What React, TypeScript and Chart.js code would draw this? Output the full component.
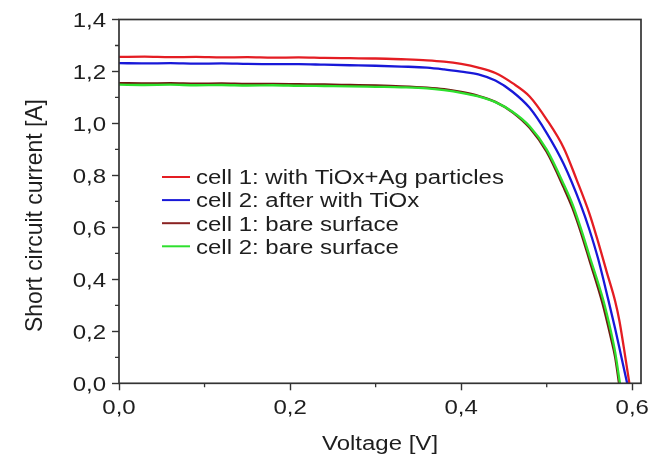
import React, { useEffect, useRef } from "react";
import { Chart, registerables } from "chart.js";

Chart.register(...registerables);

const seriesLabels = [
  "cell 1: with TiOx+Ag particles",
  "cell 2: after with TiOx",
  "cell 1: bare surface",
  "cell 2: bare surface",
];
const seriesColors = ["#e41d23", "#1818d8", "#6e1a10", "#2ee02e"];

const redV = [0, 0.03, 0.06, 0.09, 0.12, 0.15, 0.18, 0.21, 0.24, 0.27, 0.3, 0.33, 0.36, 0.38, 0.4, 0.42, 0.44, 0.46, 0.48, 0.5, 0.52, 0.535, 0.55, 0.56, 0.57, 0.58, 0.585, 0.59, 0.5966];
const redI = [1.256, 1.257, 1.255, 1.256, 1.254, 1.255, 1.253, 1.254, 1.252, 1.251, 1.25, 1.247, 1.243, 1.238, 1.229, 1.215, 1.194, 1.155, 1.104, 1.015, 0.905, 0.783, 0.652, 0.545, 0.43, 0.316, 0.24, 0.14, 0.0];

const blueV = [0, 0.03, 0.06, 0.09, 0.12, 0.15, 0.18, 0.21, 0.24, 0.27, 0.3, 0.33, 0.36, 0.38, 0.4, 0.42, 0.44, 0.46, 0.48, 0.5, 0.52, 0.54, 0.55, 0.56, 0.572, 0.58, 0.587, 0.594];
const blueI = [1.232, 1.231, 1.232, 1.23, 1.231, 1.229, 1.228, 1.228, 1.226, 1.224, 1.222, 1.219, 1.215, 1.208, 1.199, 1.189, 1.165, 1.122, 1.06, 0.963, 0.843, 0.685, 0.59, 0.48, 0.321, 0.21, 0.105, 0.0];

const brownV = [0, 0.03, 0.06, 0.09, 0.12, 0.15, 0.18, 0.21, 0.24, 0.27, 0.3, 0.33, 0.36, 0.38, 0.4, 0.42, 0.44, 0.46, 0.48, 0.5, 0.52, 0.53, 0.54, 0.55, 0.565, 0.575, 0.58, 0.5845];
const brownI = [1.155, 1.154, 1.155, 1.153, 1.154, 1.152, 1.152, 1.151, 1.15, 1.148, 1.146, 1.143, 1.138, 1.132, 1.121, 1.106, 1.083, 1.043, 0.983, 0.89, 0.752, 0.675, 0.58, 0.473, 0.31, 0.175, 0.1, 0.0];

const greenV = [0, 0.03, 0.06, 0.09, 0.12, 0.15, 0.18, 0.21, 0.24, 0.27, 0.3, 0.33, 0.36, 0.38, 0.4, 0.42, 0.44, 0.46, 0.48, 0.5, 0.52, 0.53, 0.54, 0.55, 0.566, 0.575, 0.58, 0.5856];
const greenI = [1.149, 1.148, 1.149, 1.147, 1.148, 1.146, 1.147, 1.145, 1.144, 1.143, 1.141, 1.139, 1.135, 1.128, 1.118, 1.104, 1.082, 1.045, 0.989, 0.899, 0.765, 0.69, 0.595, 0.49, 0.321, 0.2, 0.12, 0.0];

const seriesV = [redV, blueV, brownV, greenV];
const seriesI = [redI, blueI, brownI, greenI];
const drawOrder = [3, 2, 1, 0];

const xTicks = [0, 0.2, 0.4, 0.6];
const yTicks = [0, 0.2, 0.4, 0.6, 0.8, 1.0, 1.2, 1.4];
const xMinor = [0.1, 0.3, 0.5];
const yMinor = [0.1, 0.3, 0.5, 0.7, 0.9, 1.1, 1.3];
const xTitle = "Voltage [V]";
const yTitle = "Short circuit current [A]";

const fmt = (v: number) => v.toFixed(1).replace(".", ",");
const FONT = "'Liberation Sans', Arial, sans-serif";
const AXIS = "#333333";
const TEXT = "#1e1e1e";
const SX = 1.2;

function stretchedText(ctx: any, text: string, x: number, y: number, align: string, rot = 0, sx = SX, sy = 1) {
  ctx.save();
  ctx.translate(x, y);
  if (rot) ctx.rotate(rot);
  ctx.scale(sx, sy);
  ctx.textAlign = align;
  ctx.textBaseline = "alphabetic";
  ctx.fillText(text, 0, 0);
  ctx.restore();
}

const framePlugin = {
  id: "frame",
  afterDraw(chart: any) {
    const { ctx, chartArea: a, scales } = chart;
    ctx.save();
    ctx.strokeStyle = AXIS;
    ctx.lineWidth = 1.7;
    ctx.strokeRect(a.left, a.top, a.right - a.left, a.bottom - a.top);
    // minor ticks
    ctx.lineWidth = 1.3;
    ctx.beginPath();
    xMinor.forEach((v) => {
      const px = scales.x.getPixelForValue(v);
      ctx.moveTo(px, a.bottom);
      ctx.lineTo(px, a.bottom + 4);
    });
    yMinor.forEach((v) => {
      const py = scales.y.getPixelForValue(v);
      ctx.moveTo(a.left, py);
      ctx.lineTo(a.left - 4, py);
    });
    ctx.stroke();

    ctx.fillStyle = TEXT;
    ctx.font = `20px ${FONT}`;
    // tick labels
    yTicks.forEach((v) => {
      const py = scales.y.getPixelForValue(v);
      stretchedText(ctx, fmt(v), a.left - 13, py + 7.2, "right");
    });
    xTicks.forEach((v) => {
      const px = scales.x.getPixelForValue(v);
      stretchedText(ctx, fmt(v), px, a.bottom + 30.5, "center");
    });
    // axis titles
    stretchedText(ctx, xTitle, (a.left + a.right) / 2, 449.5, "center");
    stretchedText(ctx, yTitle, 42, 215.5, "center", -Math.PI / 2, 1.145, 1.2);

    // legend
    chart.data.datasets.forEach((ds: any, i: number) => {
      const y = a.top + 157.5 + i * 23.1;
      const x0 = a.left + 43;
      ctx.strokeStyle = i === 2 ? "#8a2222" : ds.borderColor;
      ctx.lineWidth = 2;
      ctx.beginPath();
      ctx.moveTo(x0, y);
      ctx.lineTo(x0 + 28, y);
      ctx.stroke();
      ctx.fillStyle = TEXT;
      stretchedText(ctx, ds.label, x0 + 34, y + 7.3, "left");
    });
    ctx.restore();
  },
};

export default function App() {
  const ref = useRef<HTMLCanvasElement | null>(null);
  useEffect(() => {
    document.body.style.margin = "0";
    const canvas = ref.current!;
    const chart = new Chart(canvas, {
      type: "line",
      data: {
        datasets: seriesLabels.map((label, i) => ({
          label,
          data: seriesV[i].map((v, k) => ({ x: v, y: seriesI[i][k] })),
          borderColor: seriesColors[i],
          backgroundColor: seriesColors[i],
          borderWidth: 2.3,
          pointRadius: 0,
          cubicInterpolationMode: "monotone" as const,
          fill: false,
          order: drawOrder[i],
        })),
      },
      options: {
        animation: false,
        responsive: false,
        layout: { padding: { left: 0, right: 19, top: 19.5, bottom: 0 } },
        plugins: { legend: { display: false }, tooltip: { enabled: false } },
        scales: {
          x: {
            type: "linear",
            min: 0,
            max: 0.6102,
            afterFit: (s: any) => { s.height = 70.7; },
            afterBuildTicks: (s: any) => { s.ticks = xTicks.map((v) => ({ value: v })); },
            ticks: { display: false, includeBounds: false },
            grid: { drawOnChartArea: false, tickLength: 7, tickWidth: 1.4, tickColor: AXIS },
            border: { display: false },
            title: { display: false, text: xTitle },
          },
          y: {
            type: "linear",
            min: 0,
            max: 1.4,
            afterFit: (s: any) => { s.width = 119; },
            afterBuildTicks: (s: any) => { s.ticks = yTicks.map((v) => ({ value: v })); },
            ticks: { display: false, includeBounds: false },
            grid: { drawOnChartArea: false, tickLength: 7, tickWidth: 1.4, tickColor: AXIS },
            border: { display: false },
            title: { display: false, text: yTitle },
          },
        },
      },
      plugins: [framePlugin],
    });
    return () => chart.destroy();
  }, []);
  return (
    <div style={{ position: "fixed", left: 0, top: 0, width: 660, height: 454, background: "#fff" }}>
      <canvas ref={ref} width={660} height={454} />
    </div>
  );
}
